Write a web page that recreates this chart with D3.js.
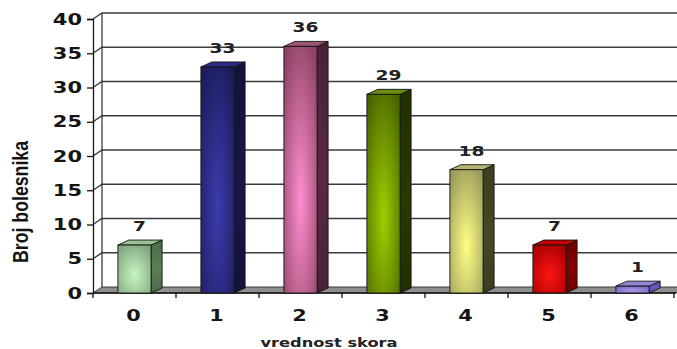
<!DOCTYPE html>
<html>
<head>
<meta charset="utf-8">
<script src="https://cdn.jsdelivr.net/npm/d3@7"></script>
<style>
  html, body { margin: 0; padding: 0; background: #fff; }
  svg { display: block; }
</style>
</head>
<body>
<svg id="chart" width="677" height="349"></svg>
<script>
// Score values and patient counts
const categories = ["0", "1", "2", "3", "4", "5", "6"];
const counts = [7, 33, 36, 29, 18, 7, 1];
const yTicks = [0, 5, 10, 15, 20, 25, 30, 35, 40];
const yTitle = "Broj bolesnika";
const xTitle = "vrednost skora";

// Bar palette: [light centre, dark edge, side face, top face]
const palette = [
  ["#c8f4c4", "#7ea27a", "#4c6a48", "#9cc090"],
  ["#3c3cae", "#1c1c5c", "#12123e", "#2c2c84"],
  ["#ff8ed0", "#8c4262", "#4a2236", "#9c5474"],
  ["#9ed000", "#4a6400", "#223000", "#6c8c10"],
  ["#ffff84", "#9a9a5c", "#3c3c20", "#b4b474"],
  ["#ff1414", "#a40000", "#700000", "#c40000"],
  ["#a898e8", "#7a62c2", "#5a48a0", "#9484d6"]
];

const svg = d3.select("#chart");
const defs = svg.append("defs");

// Plot geometry (front plane) and depth offsets
const left = 93, right = 674, bottom = 293, topY = 19;
const wall = { dx: 9, dy: -6 };
const depth = { dx: 11, dy: -5 };

const x = d3.scaleBand().domain(categories).range([left, right])
  .paddingInner(0.6).paddingOuter(0.3);
const y = d3.scaleLinear().domain([0, 40]).range([bottom, topY]);

const ink = "#141414";

// Floor
svg.append("path")
  .attr("d", `M${left},${bottom} L${right + 2},${bottom} L${right + 2 + wall.dx},${bottom + wall.dy} L${left + wall.dx},${bottom + wall.dy} Z`)
  .attr("fill", "#8e8e8e").attr("stroke", "#3a3a3a").attr("stroke-width", 1);

// Gridlines on the side wall and back wall
const grid = svg.append("g");
yTicks.filter(v => v > 0).forEach(v => {
  const yf = y(v);
  grid.append("path")
    .attr("d", `M${left},${yf} L${left + wall.dx},${yf + wall.dy} L677,${yf + wall.dy}`)
    .attr("fill", "none").attr("stroke", "#3c3c3c").attr("stroke-width", 1.4);
});
// Back wall left edge
svg.append("line")
  .attr("x1", left + wall.dx).attr("x2", left + wall.dx)
  .attr("y1", y(40) + wall.dy).attr("y2", bottom + wall.dy)
  .attr("stroke", "#2a2a2a").attr("stroke-width", 1.2);

// Y axis (front)
const yAxis = svg.append("g").attr("transform", `translate(${left},0)`)
  .call(d3.axisLeft(y).tickValues(yTicks).tickSize(6).tickFormat(() => ""));
yAxis.select(".domain").attr("stroke", ink).attr("stroke-width", 1.3);
yAxis.selectAll(".tick line").attr("stroke", ink).attr("stroke-width", 1.3);

// Y tick labels, drawn wide
yTicks.forEach(v => {
  svg.append("text")
    .attr("transform", `translate(82,${y(v) + 5.5}) scale(1.4,1)`)
    .attr("text-anchor", "end")
    .attr("font-family", "DejaVu Sans, Verdana, sans-serif")
    .attr("font-weight", "bold").attr("font-size", 15)
    .attr("fill", ink).text(v);
});

// X axis (front) with category boundary ticks
const step = x.step();
const boundaries = d3.range(categories.length + 1).map(i => x(categories[0]) - x.paddingOuter() * step + i * step);
svg.append("line")
  .attr("x1", left).attr("x2", right + 2).attr("y1", bottom).attr("y2", bottom)
  .attr("stroke", ink).attr("stroke-width", 1.3);
svg.append("g").selectAll("line").data(boundaries).join("line")
  .attr("x1", d => d).attr("x2", d => d)
  .attr("y1", bottom).attr("y2", bottom + 5)
  .attr("stroke", ink).attr("stroke-width", 1.3);

// Gradients
palette.forEach((p, i) => {
  const rg = defs.append("radialGradient").attr("id", "front" + i)
    .attr("cx", 0.5).attr("cy", 0.62).attr("r", 0.72);
  rg.append("stop").attr("offset", "0%").attr("stop-color", p[0]);
  rg.append("stop").attr("offset", "100%").attr("stop-color", p[1]);
  const sg = defs.append("linearGradient").attr("id", "side" + i)
    .attr("x1", 0).attr("x2", 0).attr("y1", 0).attr("y2", 1);
  sg.append("stop").attr("offset", "0%").attr("stop-color", p[2]);
  sg.append("stop").attr("offset", "55%").attr("stop-color", d3.color(p[2]).brighter(0.5));
  sg.append("stop").attr("offset", "100%").attr("stop-color", p[2]);
});

// Bars: front, side and top faces
const bars = svg.append("g").selectAll("g").data(counts).join("g");
bars.each(function (v, i) {
  const g = d3.select(this);
  const x0 = x(categories[i]), x1 = x0 + x.bandwidth();
  const yt = y(v), yb = y(0);
  g.append("path")
    .attr("d", `M${x1},${yb} L${x1 + depth.dx},${yb + depth.dy} L${x1 + depth.dx},${yt + depth.dy} L${x1},${yt} Z`)
    .attr("fill", `url(#side${i})`).attr("stroke", ink).attr("stroke-width", 0.9);
  g.append("path")
    .attr("d", `M${x0},${yt} L${x0 + depth.dx},${yt + depth.dy} L${x1 + depth.dx},${yt + depth.dy} L${x1},${yt} Z`)
    .attr("fill", palette[i][3]).attr("stroke", ink).attr("stroke-width", 0.9);
  g.append("rect")
    .attr("x", x0).attr("y", yt).attr("width", x.bandwidth()).attr("height", yb - yt)
    .attr("fill", `url(#front${i})`).attr("stroke", ink).attr("stroke-width", 0.9);
});

// Value labels
counts.forEach((v, i) => {
  svg.append("text")
    .attr("transform", `translate(${x(categories[i]) + x.bandwidth() / 2 + 5},${y(v) - 14}) scale(1.33,1)`)
    .attr("text-anchor", "middle")
    .attr("font-family", "DejaVu Sans, Verdana, sans-serif")
    .attr("font-weight", "bold").attr("font-size", 14)
    .attr("fill", "#222").text(v);
});

// Category labels
categories.forEach(c => {
  svg.append("text")
    .attr("transform", `translate(${x(c) + x.bandwidth() / 2 - 1},321) scale(1.3,1)`)
    .attr("text-anchor", "middle")
    .attr("font-family", "DejaVu Sans, Verdana, sans-serif")
    .attr("font-weight", "bold").attr("font-size", 16)
    .attr("fill", ink).text(c);
});

// Axis titles
svg.append("text")
  .attr("transform", "translate(329,347) scale(1.25,1)")
  .attr("text-anchor", "middle")
  .attr("font-family", "DejaVu Sans, Verdana, sans-serif")
  .attr("font-weight", "bold").attr("font-size", 13)
  .attr("fill", "#222").text(xTitle);

svg.append("text")
  .attr("transform", "translate(28,202) rotate(-90) scale(1,1.3)")
  .attr("text-anchor", "middle")
  .attr("font-family", "Liberation Sans Narrow, Liberation Sans, Arial, sans-serif")
  .attr("font-weight", "bold").attr("font-size", 17)
  .attr("textLength", 122).attr("lengthAdjust", "spacingAndGlyphs")
  .attr("fill", ink).text(yTitle);
</script>
</body>
</html>
